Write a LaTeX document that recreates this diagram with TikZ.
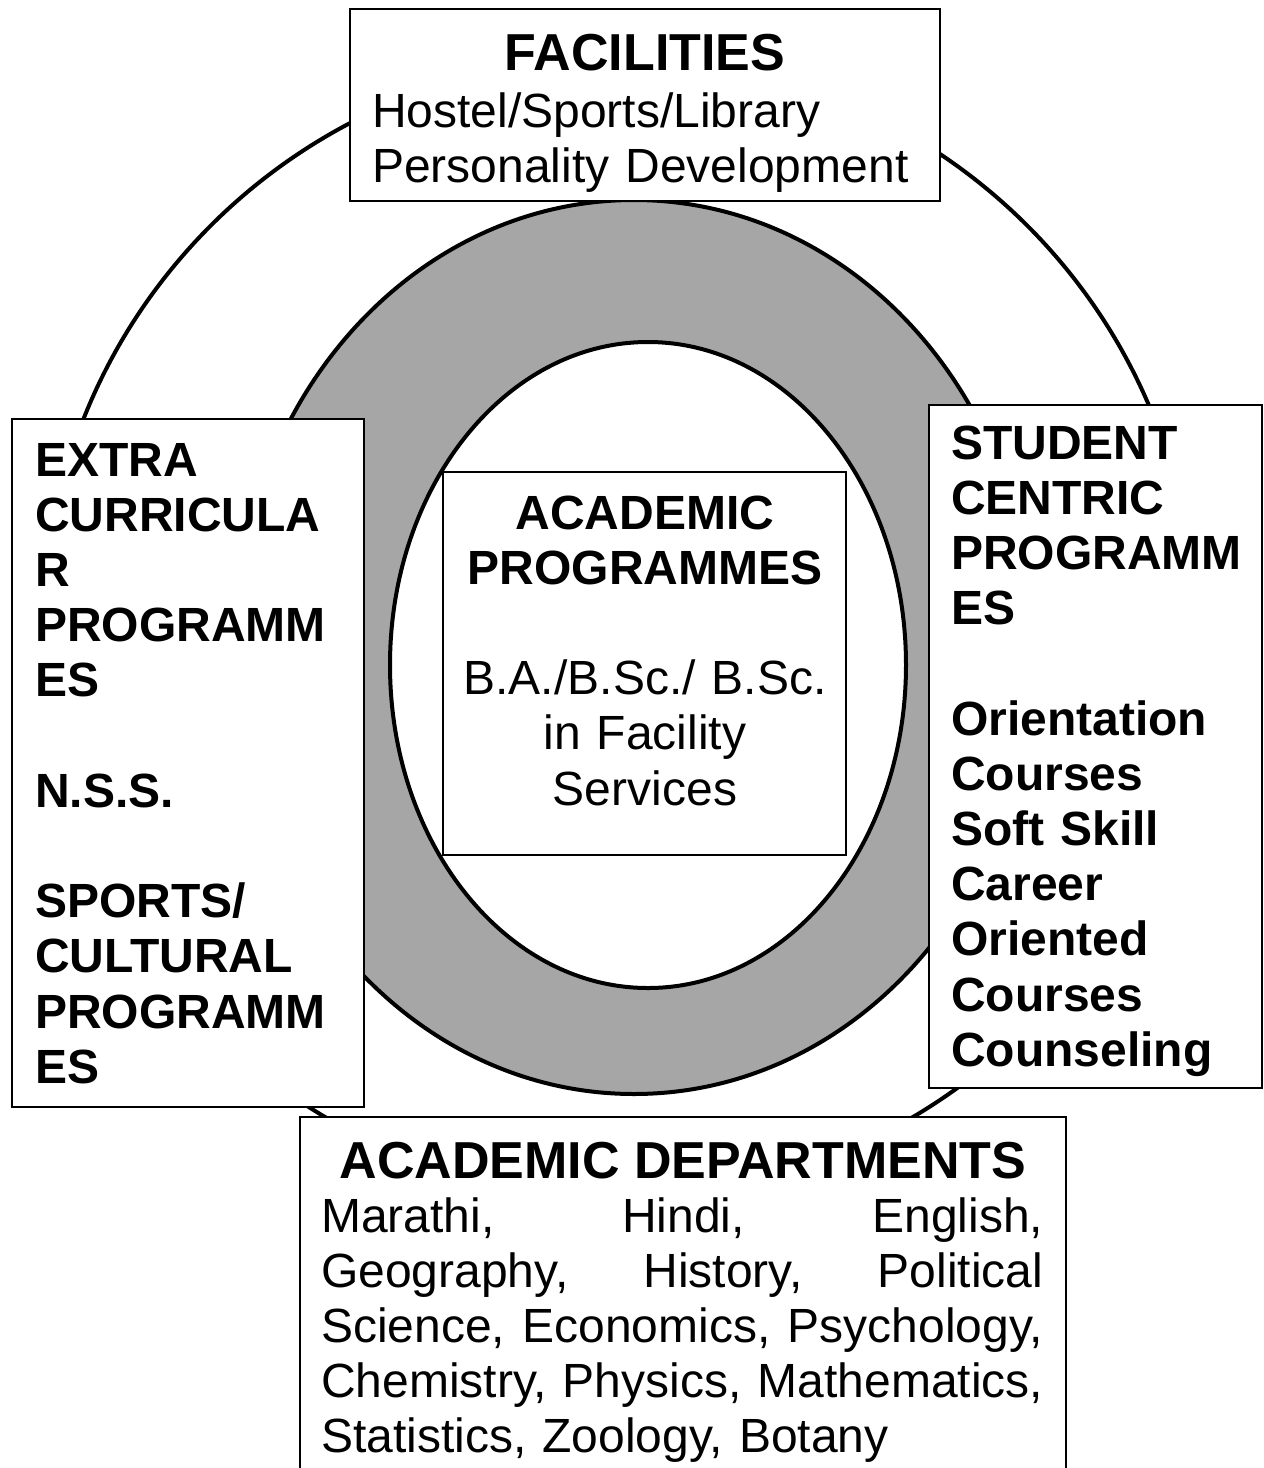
\documentclass[tikz,border=0pt]{standalone}
\usepackage{fontspec}
\setmainfont{Liberation Sans}
\definecolor{ringgray}{RGB}{166,166,166}
\tikzset{
  ring/.style={line width=4pt},
  frame/.style={draw,line width=2pt,fill=white,inner sep=0pt},
  bigtitle/.style={font=\fontsize{52}{60}\selectfont\bfseries,inner sep=0pt},
  txt/.style={font=\fontsize{48}{55.2}\selectfont,inner sep=0pt},
}

\begin{document}
\begin{tikzpicture}[x=1pt,y=-1pt]
\def\gap{55.2pt}
\useasboundingbox (0,0) rectangle (1264,1468);
\clip (0,0) rectangle (1264,1468);

% rings
\draw[ring] (619,627) ellipse [x radius=575pt, y radius=570pt];
\draw[ring,fill=ringgray] (634,647) ellipse [x radius=399pt, y radius=447pt];
\draw[ring,fill=white] (648,665) ellipse [x radius=258pt, y radius=323pt];

% boxes
\node[frame,minimum width=403pt,minimum height=383pt] (prog) at (644.5,663.5) {};
\node[frame,minimum width=590pt,minimum height=192pt] (fac) at (645,105) {};
\node[frame,minimum width=352pt,minimum height=688pt] (extra) at (188,763) {};
\node[frame,minimum width=333pt,minimum height=683pt] (stud) at (1095.5,746.5) {};
\node[frame,minimum width=766pt,minimum height=420pt] (dept) at (683,1327) {};

% top
\node[bigtitle,anchor=base] (factitle) at (645,70) {FACILITIES};
\node[txt,anchor=base west,text width=560pt] (factext) at (372,127)
 {Hostel/Sports/Library\\Personality Development};

% left
\node[txt,anchor=base west,text width=325pt] (extratext) at (35,476)
 {\bfseries EXTRA\\CURRICULA\\R\\PROGRAMM\\ES\\[\gap]N.S.S.\\[\gap]SPORTS/\\CULTURAL\\PROGRAMM\\ES};

% right
\node[txt,anchor=base west,text width=310pt] (studtext) at (951,459)
 {\bfseries STUDENT\\CENTRIC\\PROGRAMM\\ES\\[\gap]Orientation\\Courses\\Soft Skill\\Career\\Oriented\\Courses\\Counseling};

% centre
\node[txt,anchor=base,text width=390pt] (progtext) at (645,529)
 {\centering{\bfseries ACADEMIC\\PROGRAMMES}\\[\gap]B.A./B.Sc./ B.Sc.\\in Facility\\Services\par};

% bottom
\node[bigtitle,anchor=base] (depttitle) at (683,1178) {ACADEMIC DEPARTMENTS};
\node[txt,anchor=base west,text width=722pt] (depttext) at (321,1232)
 {Marathi,\hfill Hindi,\hfill English,\\
  Geography,\hfill History,\hfill Political\\
  Science,\hfill Economics,\hfill Psychology,\\
  Chemistry,\hfill Physics,\hfill Mathematics,\\
  Statistics, Zoology, Botany};

\end{tikzpicture}
\end{document}
